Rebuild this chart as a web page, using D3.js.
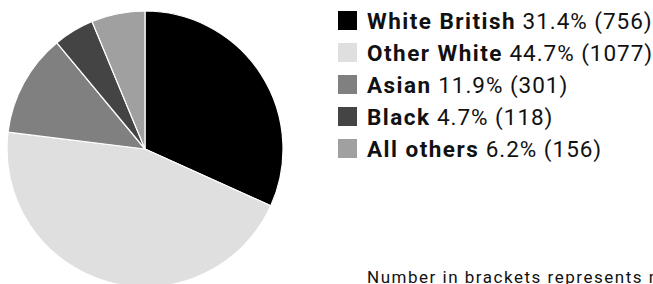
<!DOCTYPE html>
<html><head><meta charset="utf-8">
<script src="https://cdn.jsdelivr.net/npm/d3@7"></script>
<style>html,body{margin:0;padding:0;background:#fff;overflow:hidden}</style>
</head><body>
<script>
const categories = ["White British", "Other White", "Asian", "Black", "All others"];
const percents = [31.4, 44.7, 11.9, 4.7, 6.2];
const counts = [756, 1077, 301, 118, 156];
const colors = ["#000000", "#dfdfdf", "#808080", "#444444", "#a0a0a0"];
const footnote = "Number in brackets represents number of pupils";

const W = 653, H = 284;
const svg = d3.select("body").append("svg").attr("width", W).attr("height", H);
const font = "Roboto, 'DejaVu Sans', sans-serif";
const legSize = 22.5, noteSize = 17;

const data = categories.map((c, i) => ({name: c, pct: percents[i], n: counts[i], color: colors[i]}));
const pie = d3.pie().sort(null).value(d => d.pct);
const arc = d3.arc().innerRadius(0).outerRadius(138);
const g = svg.append("g").attr("transform", "translate(145,149)");
g.selectAll("path").data(pie(data)).join("path")
  .attr("d", arc).attr("fill", d => d.data.color)
  .attr("stroke", "#fff").attr("stroke-width", 1.2).attr("stroke-linejoin", "round");

// measure helper to emulate the wider reference typeface via letter-spacing
function measure(str, size, weight) {
  const t = svg.append("text").attr("font-family", font).attr("font-size", size)
    .attr("font-weight", weight).text(str);
  const w = t.node().getComputedTextLength();
  t.remove();
  return w;
}
const sample = data[0];
const regStr = d => " " + d.pct.toFixed(1) + "% (" + d.n + ")";
const lsBold = (149 - measure(sample.name, legSize, "bold")) / sample.name.length;
const lsReg = (131 - measure(regStr(sample), legSize, "normal")) / regStr(sample).length;

const y = d3.scaleBand().domain(categories).range([11, 171]);
const rows = svg.append("g").selectAll("g").data(data).join("g")
  .attr("transform", d => `translate(338,${y(d.name)})`);
rows.append("rect").attr("width", 19).attr("height", 19).attr("fill", d => d.color);
const t = rows.append("text").attr("x", 29).attr("y", 18)
  .attr("font-family", font).attr("font-size", legSize).attr("fill", "#111");
t.append("tspan").attr("font-weight", "bold").attr("letter-spacing", lsBold).text(d => d.name);
t.append("tspan").attr("letter-spacing", lsReg).text(regStr);

const noteHead = "Number in brackets represents";
const lsNote = (276 - measure(noteHead, noteSize, "normal")) / noteHead.length;
svg.append("text").attr("x", 367).attr("y", 282.5)
  .attr("font-family", font).attr("font-size", noteSize).attr("fill", "#111")
  .attr("letter-spacing", lsNote)
  .text(footnote);
</script>
</body></html>
